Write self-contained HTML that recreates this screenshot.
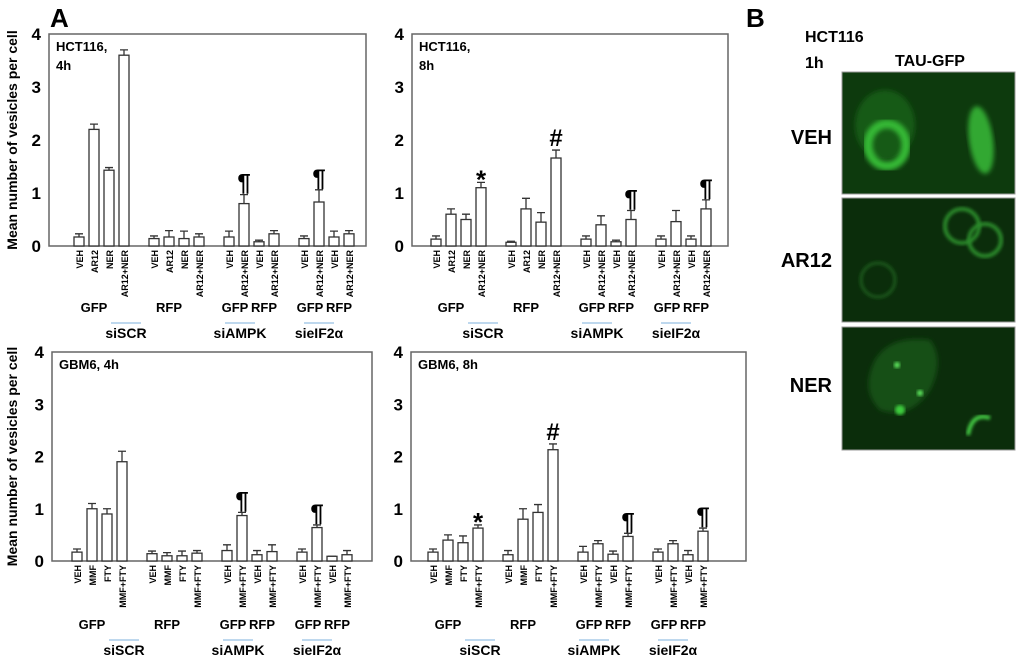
<!DOCTYPE html>
<html><head><meta charset="utf-8"><style>
body{margin:0;background:#fff;width:1020px;height:662px;overflow:hidden}
svg{display:block;font-family:"Liberation Sans",sans-serif}
</style></head><body>
<svg id="fig" width="1020" height="662" viewBox="0 0 1020 662">
<defs>
<filter id="blur2"><feGaussianBlur stdDeviation="2.5"/></filter>
<filter id="blur1"><feGaussianBlur stdDeviation="1.5"/></filter>
</defs>
<text x="50" y="27" font-size="26" font-weight="bold">A</text>
<text x="746" y="27" font-size="26" font-weight="bold">B</text>
<g id="charts"></g>
<g>
<text x="805" y="42" font-size="16" font-weight="bold">HCT116</text>
<text x="805" y="68" font-size="16" font-weight="bold">1h</text>
<text x="895" y="66" font-size="16" font-weight="bold">TAU-GFP</text>
<text x="832" y="144" font-size="20" font-weight="bold" text-anchor="end">VEH</text>
<text x="832" y="267" font-size="20" font-weight="bold" text-anchor="end">AR12</text>
<text x="832" y="392" font-size="20" font-weight="bold" text-anchor="end">NER</text>
<g>
<rect x="842" y="72" width="173" height="122" fill="#0d3a0d" stroke="#999"/>
<ellipse cx="885" cy="125" rx="30" ry="35" fill="#175a17" filter="url(#blur2)"/>
<ellipse cx="887" cy="145" rx="19" ry="21" fill="none" stroke="#35b835" stroke-width="9" filter="url(#blur2)"/>
<ellipse cx="981" cy="140" rx="12" ry="34" fill="#30a830" filter="url(#blur2)" transform="rotate(-8 981 140)"/>
</g>
<g>
<rect x="842" y="198" width="173" height="124" fill="#0b2d0b" stroke="#999"/>
<circle cx="962" cy="226" r="17" fill="none" stroke="#2a8a2a" stroke-width="4" filter="url(#blur1)"/>
<circle cx="985" cy="240" r="16" fill="none" stroke="#2a8a2a" stroke-width="4" filter="url(#blur1)"/>
<circle cx="878" cy="280" r="17" fill="none" stroke="#1c5a1c" stroke-width="3" filter="url(#blur1)"/>
</g>
<g>
<rect x="842" y="327" width="173" height="123" fill="#0b2d0b" stroke="#999"/>
<path d="M875 360 Q890 335 930 340 Q945 360 930 390 Q910 420 880 410 Q860 390 875 360Z" fill="#175017" filter="url(#blur2)"/>
<circle cx="897" cy="365" r="3" fill="#5ee85e" filter="url(#blur1)"/>
<circle cx="920" cy="393" r="3" fill="#5ee85e" filter="url(#blur1)"/>
<circle cx="900" cy="410" r="5" fill="#3ecc3e" filter="url(#blur1)"/>
<path d="M968 435 Q972 412 990 418" fill="none" stroke="#44cc44" stroke-width="4" filter="url(#blur1)"/>
</g>
</g>
</svg>
<script>
// Data arrays (top-level)
var cats1 = ["VEH","AR12","NER","AR12+NER","VEH","AR12","NER","AR12+NER","VEH","AR12+NER","VEH","AR12+NER","VEH","AR12+NER","VEH","AR12+NER"];
var cats2 = ["VEH","MMF","FTY","MMF+FTY","VEH","MMF","FTY","MMF+FTY","VEH","MMF+FTY","VEH","MMF+FTY","VEH","MMF+FTY","VEH","MMF+FTY"];
var hct4Vals = [0.17,2.2,1.43,3.6, 0.14,0.17,0.14,0.17, 0.17,0.8,0.08,0.23, 0.14,0.83,0.17,0.23];
var hct4Errs = [0.06,0.1,0.05,0.1, 0.05,0.12,0.14,0.06, 0.11,0.17,0.03,0.06, 0.05,0.23,0.11,0.06];
var hct4Marks = ["","","","", "","","","", "","¶","","", "","¶","",""];
var hct8Vals = [0.13,0.6,0.5,1.1, 0.07,0.7,0.45,1.66, 0.13,0.4,0.08,0.5, 0.13,0.46,0.13,0.7];
var hct8Errs = [0.06,0.1,0.1,0.1, 0.02,0.2,0.18,0.15, 0.06,0.17,0.03,0.17, 0.06,0.21,0.06,0.17];
var hct8Marks = ["","","","*", "","","","#", "","","","¶", "","","","¶"];
var gbm4Vals = [0.17,1.0,0.9,1.9, 0.14,0.1,0.1,0.15, 0.2,0.87,0.12,0.18, 0.17,0.64,0.09,0.12];
var gbm4Errs = [0.06,0.1,0.1,0.2, 0.05,0.06,0.09,0.05, 0.11,0.06,0.08,0.13, 0.06,0.05,0.0,0.08];
var gbm4Marks = ["","","","", "","","","", "","¶","","", "","¶","",""];
var gbm8Vals = [0.17,0.4,0.35,0.63, 0.12,0.8,0.93,2.13, 0.17,0.33,0.13,0.47, 0.17,0.33,0.12,0.57];
var gbm8Errs = [0.06,0.1,0.13,0.06, 0.08,0.2,0.15,0.11, 0.11,0.06,0.06,0.06, 0.06,0.06,0.08,0.06];
var gbm8Marks = ["","","","*", "","","","#", "","","","¶", "","","","¶"];
var yTicks = [0,1,2,3,4];

var NS="http://www.w3.org/2000/svg";
var root=document.getElementById('charts');
function mk(tag,attrs,parent,txt){var e=document.createElementNS(NS,tag);for(var k in attrs)e.setAttribute(k,attrs[k]);if(txt!==undefined)e.textContent=txt;parent.appendChild(e);return e;}

function panel(cfg){
  var g=mk('g',{},root);
  
  
  var L=cfg.l,R=cfg.r,T=cfg.t,B=cfg.b;
  function y(v){return B-(v/4)*(B-T);}
  function x(i){var grp=Math.floor(i/4),k=i%4;return cfg.x0+(grp*5+k)*cfg.slot;}
  var box=mk('rect',{x:L,y:T,width:R-L,height:B-T,fill:'none',stroke:'#666','stroke-width':1.5},g);
  
  
  yTicks.forEach(function(t){
    var tl=mk('text',{x:L-8,y:y(t)+6,'font-size':17,'font-weight':'bold','text-anchor':'end'},g,String(t));
    
    
  });
  var tt=mk('text',{x:L+7,y:T+17,'font-size':13,'font-weight':'bold'},g,cfg.title[0]);
  
  
  if(cfg.title[1]){var t2=mk('text',{x:L+7,y:T+36,'font-size':13,'font-weight':'bold'},g,cfg.title[1]);
    
    }
  var bw=10;
  cfg.vals.forEach(function(v,i){
    var cx=x(i),top=y(v),et=y(v+cfg.errs[i]);
    var eb=mk('path',{d:'M'+cx+' '+top+'V'+et+'M'+(cx-4)+' '+et+'H'+(cx+4),stroke:'#333','stroke-width':1.3,fill:'none'},g);
    
    
    var r=mk('rect',{x:cx-bw/2,y:top,width:bw,height:B-top,fill:'#fff',stroke:'#333','stroke-width':1.3},g);
    
    
    if(cfg.marks[i]){
      var m=mk('text',{x:cx,y:et-4+(cfg.marks[i]==='*'?10:0),'font-size':cfg.marks[i]==='*'?26:24,'font-weight':'bold','text-anchor':'middle'},g,cfg.marks[i]);
      
      
    }
    var lbl=mk('text',{x:0,y:0,'font-size':9,'font-weight':'bold','text-anchor':'end',transform:'translate('+(cx+4)+','+(B+4)+') rotate(-90)'},g,cfg.cats[i]);
    
    
  });
  var gy=B+cfg.gOff;
  function gl(txt,cx){var e=mk('text',{x:cx,y:gy,'font-size':13,'font-weight':'bold','text-anchor':'middle'},g,txt);
    
    }
  gl('GFP',x(1)); gl('RFP',x(5));
  gl('GFP',x(8)+6); gl('RFP',x(11)-10);
  gl('GFP',x(12)+6); gl('RFP',x(15)-10);
  var ly=gy+11;
  function si(txt,cx){
    var l=mk('line',{x1:cx-15,x2:cx+15,y1:ly,y2:ly,stroke:'#a8cbe8','stroke-width':1.5},g);
    
    
    var t=mk('text',{x:cx,y:ly+15,'font-size':14,'font-weight':'bold','text-anchor':'middle'},g,txt);
    
    
  }
  si('siSCR',x(3)+2); si('siAMPK',x(9)-4); si('sieIF2\u03B1',x(13));
  if(cfg.ytitle){
    var yt=mk('text',{x:0,y:0,'font-size':14,'font-weight':'bold','text-anchor':'middle',transform:'translate(17,'+((T+B)/2)+') rotate(-90)'},g,'Mean number of vesicles per cell');
    
    
  }
}
panel({name:'chart-hct116-4h',l:49,r:366,t:34,b:246,x0:79,slot:15,gOff:66,cats:cats1,vals:hct4Vals,errs:hct4Errs,marks:hct4Marks,title:['HCT116,','4h'],ytitle:true});
panel({name:'chart-hct116-8h',l:412,r:728,t:34,b:246,x0:436,slot:15,gOff:66,cats:cats1,vals:hct8Vals,errs:hct8Errs,marks:hct8Marks,title:['HCT116,','8h'],ytitle:false});
panel({name:'chart-gbm6-4h',l:52,r:372,t:352,b:561,x0:77,slot:15,gOff:68,cats:cats2,vals:gbm4Vals,errs:gbm4Errs,marks:gbm4Marks,title:['GBM6, 4h'],ytitle:true});
panel({name:'chart-gbm6-8h',l:411,r:746,t:352,b:561,x0:433,slot:15,gOff:68,cats:cats2,vals:gbm8Vals,errs:gbm8Errs,marks:gbm8Marks,title:['GBM6, 8h'],ytitle:false});
</script>
</body></html>
